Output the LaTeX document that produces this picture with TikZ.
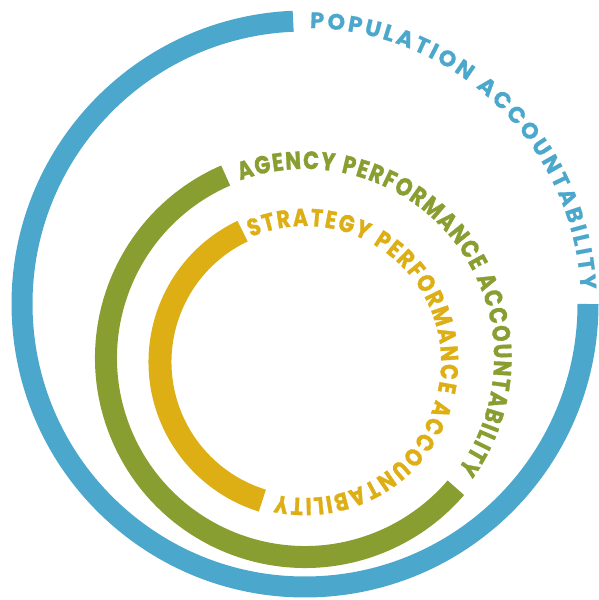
\documentclass[tikz,border=0pt]{standalone}
\usepackage{fontspec}
\newfontfamily\pop{Poppins}[FakeBold=0.6]
\newfontfamily\popn{Poppins}[FakeStretch=0.84, FakeBold=1.2]
\usetikzlibrary{decorations.text}
\definecolor{cblue}{HTML}{4BA7CB}
\definecolor{cgreen}{HTML}{889E31}
\definecolor{cyellow}{HTML}{DDAF15}
\tikzset{
  band/.style 2 args={draw=#1, line width=#2},
  arctext/.style={decorate, decoration={text along path, text align=fit to path, #1}}
}
\begin{document}
\begin{tikzpicture}[x=1pt,y=1pt]
\useasboundingbox (0,0) rectangle (598,600);
% centres
\coordinate (cb) at (305,296);
\coordinate (cg) at (305,242);
\coordinate (cy) at (305,238);
% bands
\draw[band={cblue}{21pt}] (cb) ++(92.4:283) arc[start angle=92.4, end angle=360, radius=283];
\draw[band={cgreen}{22pt}] (cg) ++(113.5:199) arc[start angle=113.5, end angle=319.3, radius=199];
\draw[band={cyellow}{23pt}] (cy) ++(115.5:145) arc[start angle=115.5, end angle=252.9, radius=145];
% texts
\path[arctext={text={|\pop\bfseries\fontsize{22.5}{22.5}\selectfont\color{cblue}|POPULATION ACCOUNTABILITY}}]
  (cb) ++(89:276) arc[start angle=89, end angle=3, radius=276];
\path[arctext={text={|\popn\bfseries\fontsize{25}{25}\selectfont\color{cgreen}|AGENCY PERFORMANCE ACCOUNTABILITY}}]
  (cg) ++(110:189) arc[start angle=110, end angle=-36, radius=189];
\path[arctext={text={|\popn\bfseries\fontsize{24.5}{24.5}\selectfont\color{cyellow}|STRATEGY PERFORMANCE ACCOUNTABILITY}}]
  (cy) ++(113.4:136) arc[start angle=113.4, end angle=-102.3, radius=136];
\end{tikzpicture}
\end{document}
